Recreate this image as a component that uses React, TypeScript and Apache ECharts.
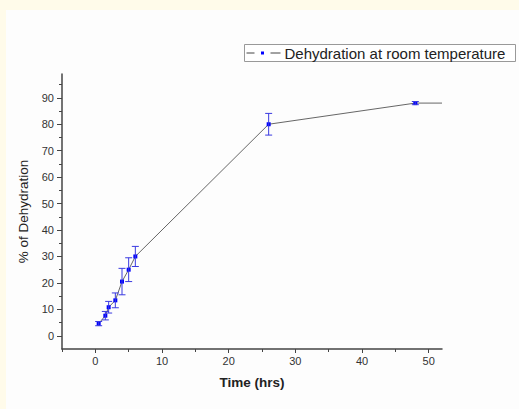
import React, { useEffect, useRef } from "react";
import * as echarts from "echarts";

const timeHrs = [0.5, 1.5, 2, 3, 4, 5, 6, 26, 48];
const dehydration = [4.6, 7.6, 10.8, 13.4, 20.5, 25, 30, 80, 88];
const errors = [0.8, 1.6, 2.2, 2.8, 5, 4.5, 3.8, 4.1, 0.6];
const tailPoint = [52, 88];
const xMajorTicks = [0, 10, 20, 30, 40, 50];
const xMinorTicks = [-5, 5, 15, 25, 35, 45];
const yMajorTicks = [0, 10, 20, 30, 40, 50, 60, 70, 80, 90];
const yMinorTicks = [5, 15, 25, 35, 45, 55, 65, 75, 85, 95];
const seriesName = "Dehydration at room temperature";

export default function App() {
  const ref = useRef<HTMLDivElement>(null);
  useEffect(() => {
    if (!ref.current) return;
    const chart = echarts.init(ref.current, null, { renderer: "svg" });
    const font = "'Liberation Sans', Arial, sans-serif";
    const lineData: any[] = timeHrs.map((t, i) => [t, dehydration[i]]);
    lineData.push({ value: tailPoint, symbol: "none" });
    const errData = timeHrs.map((t, i) => [t, dehydration[i] - errors[i], dehydration[i] + errors[i]]);
    const axisColor = "#444";
    const baseX = {
      type: "value",
      min: -5,
      max: 52,
      interval: 5,
      splitLine: { show: false },
    };
    const baseY = {
      type: "value",
      min: -5,
      max: 99,
      interval: 5,
      splitLine: { show: false },
    };
    chart.setOption({
      animation: false,
      backgroundColor: "transparent",
      grid: { left: 62, right: 77, top: 74, bottom: 60 },
      xAxis: [
        {
          ...baseX,
          position: "bottom",
          name: "Time (hrs)",
          nameLocation: "middle",
          nameGap: 26,
          nameTextStyle: { fontFamily: font, fontSize: 13.5, fontWeight: "bold", color: "#222" },
          axisLine: { show: true, onZero: false, lineStyle: { color: axisColor, width: 1.5 } },
          axisTick: { show: true, customValues: xMajorTicks, length: 4, lineStyle: { color: axisColor } },
          axisLabel: { customValues: xMajorTicks, fontFamily: font, fontSize: 11, color: "#333", margin: 6 },
        },
        {
          ...baseX,
          position: "bottom",
          axisLine: { show: false, onZero: false },
          axisTick: { show: true, customValues: xMinorTicks, length: 3, lineStyle: { color: axisColor } },
          axisLabel: { show: false },
        },
      ],
      yAxis: [
        {
          ...baseY,
          position: "left",
          name: "% of Dehydration",
          nameLocation: "middle",
          nameGap: 31,
          nameTextStyle: { fontFamily: font, fontSize: 13.5, color: "#222" },
          axisLine: { show: true, onZero: false, lineStyle: { color: axisColor, width: 1.5 } },
          axisTick: { show: true, customValues: yMajorTicks, length: 5, lineStyle: { color: axisColor } },
          axisLabel: { customValues: yMajorTicks, fontFamily: font, fontSize: 11, color: "#333", margin: 8 },
        },
        {
          ...baseY,
          position: "left",
          axisLine: { show: false, onZero: false },
          axisTick: { show: true, customValues: yMinorTicks, length: 3, lineStyle: { color: axisColor } },
          axisLabel: { show: false },
        },
      ],
      graphic: [
        {
          type: "group",
          left: 244,
          top: 44,
          children: [
            { type: "rect", shape: { x: 0, y: 0, width: 271, height: 17 }, style: { fill: "#fff", stroke: "#999", lineWidth: 1 } },
            { type: "line", shape: { x1: 2, y1: 8.5, x2: 10, y2: 8.5 }, style: { stroke: "#444", lineWidth: 1 } },
            { type: "rect", shape: { x: 16.5, y: 7, width: 3, height: 3 }, style: { fill: "#0000ff" } },
            { type: "line", shape: { x1: 26, y1: 8.5, x2: 36, y2: 8.5 }, style: { stroke: "#444", lineWidth: 1 } },
            {
              type: "text",
              x: 40,
              y: 1,
              style: { text: seriesName, fontFamily: font, fontSize: 15, fill: "#222" },
            },
          ],
        },
      ],
      series: [
        {
          name: seriesName,
          type: "line",
          xAxisIndex: 0,
          yAxisIndex: 0,
          data: lineData,
          symbol: "rect",
          symbolSize: 4,
          itemStyle: { color: "#0000ff" },
          lineStyle: { color: "#666", width: 1 },
          z: 2,
        },
        {
          type: "custom",
          xAxisIndex: 0,
          yAxisIndex: 0,
          data: errData,
          z: 3,
          renderItem: (params: any, api: any) => {
            const x = api.value(0);
            const lo = api.coord([x, api.value(1)]);
            const hi = api.coord([x, api.value(2)]);
            const w = 3.5;
            const style = { stroke: "#3a3ae0", lineWidth: 1 };
            return {
              type: "group",
              children: [
                { type: "line", shape: { x1: lo[0], y1: lo[1], x2: hi[0], y2: hi[1] }, style },
                { type: "line", shape: { x1: lo[0] - w, y1: lo[1], x2: lo[0] + w, y2: lo[1] }, style },
                { type: "line", shape: { x1: hi[0] - w, y1: hi[1], x2: hi[0] + w, y2: hi[1] }, style },
              ],
            };
          },
        },
      ],
    });
    return () => chart.dispose();
  }, []);
  return (
    <div style={{ position: "fixed", left: 0, top: 0, width: 519, height: 409, background: "#fffbea" }}>
      <div style={{ position: "absolute", left: 6, top: 10, width: 513, height: 399, background: "#fdfdfd" }} />
      <div ref={ref} style={{ position: "absolute", left: 0, top: 0, width: 519, height: 409 }} />
    </div>
  );
}
